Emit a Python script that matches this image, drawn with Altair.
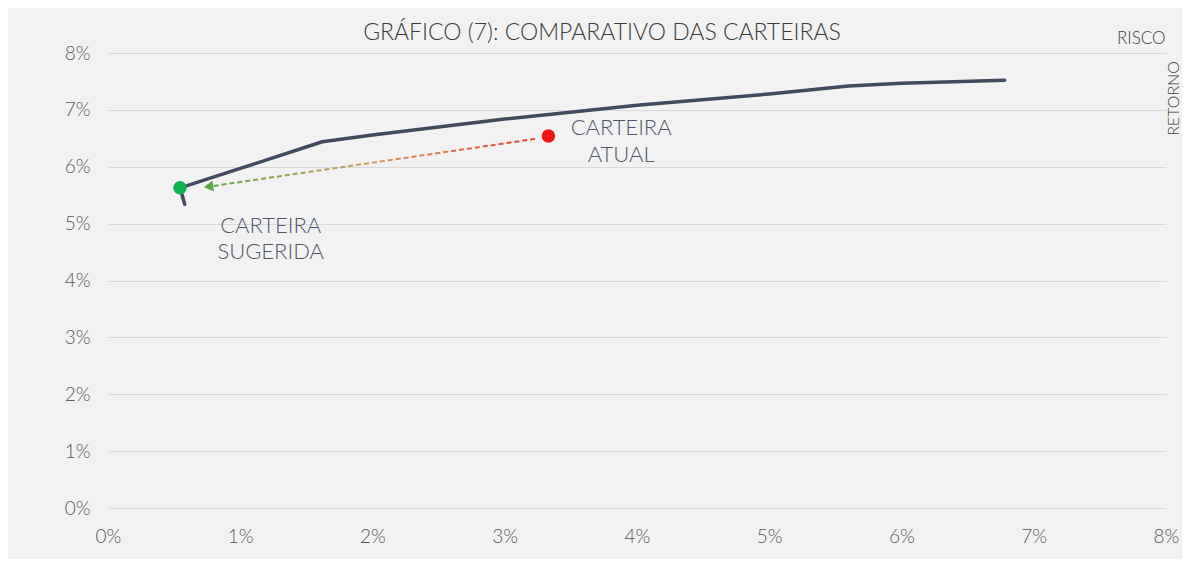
import altair as alt
import pandas as pd

# Fronteira eficiente (risco %, retorno %), na ordem do traçado
risco_fronteira = [0.58, 0.545, 1.0, 1.62, 2.0, 3.0, 4.0, 5.0, 5.6, 6.0, 6.78]
retorno_fronteira = [5.34, 5.63, 5.97, 6.44, 6.56, 6.84, 7.08, 7.28, 7.42, 7.47, 7.52]

# Carteiras
carteiras = ["ATUAL", "SUGERIDA"]
risco_carteiras = [3.33, 0.544]
retorno_carteiras = [6.54, 5.63]
cores_carteiras = ["#f01414", "#0fb04f"]

# Seta (da atual para a sugerida)
seta_risco = [3.23, 0.76]
seta_retorno = [6.49, 5.65]

# Rótulos
rotulos_texto = ["CARTEIRA", "ATUAL", "CARTEIRA", "SUGERIDA"]
rotulos_risco = [3.88, 3.88, 1.23, 1.23]
rotulos_retorno = [6.68, 6.20, 4.96, 4.50]

ticks = [0, 1, 2, 3, 4, 5, 6, 7, 8]

FONT = "Lato"
df_front = pd.DataFrame({"risco": risco_fronteira, "retorno": retorno_fronteira,
                         "ordem": list(range(len(risco_fronteira)))})
df_cart = pd.DataFrame({"carteira": carteiras, "risco": risco_carteiras,
                        "retorno": retorno_carteiras, "cor": cores_carteiras})
df_seta = pd.DataFrame({"risco": seta_risco, "retorno": seta_retorno, "ordem": [0, 1]})
df_ponta = df_seta.iloc[[1]]
df_rot = pd.DataFrame({"texto": rotulos_texto, "risco": rotulos_risco, "retorno": rotulos_retorno})

xscale = alt.Scale(domain=[0, 8], nice=False, zero=False)
yscale = alt.Scale(domain=[0, 8], nice=False, zero=False)

x_enc = alt.X("risco:Q", scale=xscale, axis=alt.Axis(
    values=ticks, labelExpr="datum.value + '%'", grid=False, domain=False, ticks=False,
    labelFlush=False, labelOverlap=False,
    labelFont=FONT, labelFontSize=19, labelFontWeight=300, labelColor="#595959",
    labelPadding=19,
    title="RISCO", titleFont=FONT, titleFontSize=17, titleFontWeight=300,
    titleColor="#404040", titleX=1057, titleY=-470, titleAlign="right",
    titleBaseline="middle", titleAnchor="end"))
y_enc = alt.Y("retorno:Q", scale=yscale, axis=alt.Axis(
    values=ticks, labelExpr="datum.value + '%'", grid=True, gridColor="#d9d9d9",
    gridWidth=1, domain=False, ticks=False, labelFlush=False, labelOverlap=False,
    labelFont=FONT, labelFontSize=19, labelFontWeight=300, labelColor="#595959",
    labelPadding=18,
    title="RETORNO", titleFont=FONT, titleFontSize=16, titleFontWeight=300,
    titleColor="#404040", titleAngle=270, titleX=1065, titleY=45,
    titleAlign="center", titleBaseline="middle"))

fronteira = alt.Chart(df_front).mark_line(
    color="#414b5d", strokeWidth=3.5, strokeCap="round", strokeJoin="round"
).encode(x=x_enc, y=y_enc, order="ordem:Q")

seta = alt.Chart(df_seta).mark_line(
    strokeDash=[5, 3], strokeWidth=2,
    color=alt.Gradient(gradient="linear", x1=1, x2=0, y1=0, y2=0, stops=[
        alt.GradientStop(offset=0, color="#e8403a"),
        alt.GradientStop(offset=0.5, color="#cf9c5a"),
        alt.GradientStop(offset=1, color="#5fa845"),
    ])
).encode(x="risco:Q", y="retorno:Q", order="ordem:Q")

ponta = alt.Chart(df_ponta).mark_point(
    shape="triangle-left", filled=True, size=120, opacity=1, color="#5fa845", angle=352
).encode(x="risco:Q", y="retorno:Q")

pontos = alt.Chart(df_cart).mark_circle(size=180, opacity=1).encode(
    x="risco:Q", y="retorno:Q", color=alt.Color("cor:N", scale=None))

rotulos = alt.Chart(df_rot).mark_text(
    font=FONT, fontSize=22, fontWeight=300, color="#4e5869", align="center",
    baseline="middle"
).encode(x="risco:Q", y="retorno:Q", text="texto:N")

chart = alt.layer(fronteira, seta, ponta, pontos, rotulos).properties(
    width=1058, height=455,
    title=alt.TitleParams("GRÁFICO (7): COMPARATIVO DAS CARTEIRAS", anchor="middle",
                          frame="group", dx=-35, dy=22, fontSize=23, font=FONT,
                          fontWeight=300, color="#3a3a3a", offset=6),
    autosize=alt.AutoSizeParams(type="none"),
    padding={"left": 100, "top": 45, "right": 16, "bottom": 51},
    background="#f2f2f2",
).configure_view(stroke=None)

chart.save("out.html", embed_options={"renderer": "svg", "actions": False})
